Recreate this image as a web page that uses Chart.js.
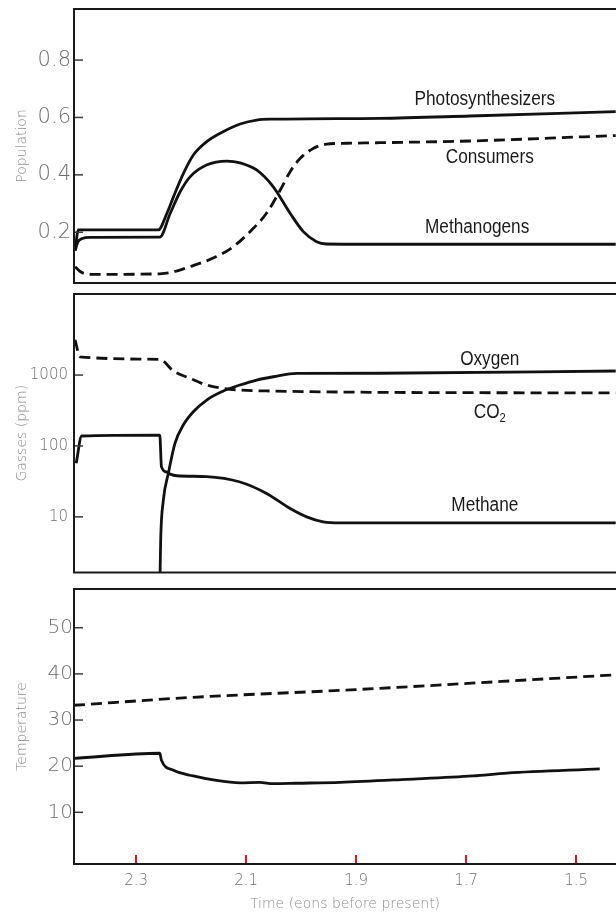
<!DOCTYPE html>
<html>
<head>
<meta charset="utf-8">
<script src="https://cdn.jsdelivr.net/npm/chart.js@4.4.1/dist/chart.umd.min.js"></script>
<style>
  body { margin: 0; background: #fff; }
  #wrap { position: relative; width: 616px; height: 913px; }
  canvas { position: absolute; left: 0; }
</style>
</head>
<body>
<div id="wrap">
  <canvas id="popChart" width="616" height="290" style="top:0"></canvas>
  <canvas id="gasChart" width="616" height="290" style="top:290px"></canvas>
  <canvas id="tempChart" width="616" height="333" style="top:580px"></canvas>
</div>
<script>
// time axis (eons before present), runs backwards left to right
const timeTicks = [2.3, 2.1, 1.9, 1.7, 1.5];

// population panel
const popTicks = [0.2, 0.4, 0.6, 0.8];
const photoT = [2.411, 2.405, 2.26, 2.244, 2.232, 2.214, 2.196, 2.172, 2.142, 2.111, 2.081, 2.051, 1.857, 1.693, 1.428];
const photoV = [0.14, 0.208, 0.208, 0.266, 0.324, 0.405, 0.469, 0.515, 0.55, 0.577, 0.591, 0.594, 0.597, 0.605, 0.62];
const methanogenT = [2.411, 2.406, 2.398, 2.384, 2.257, 2.238, 2.22, 2.202, 2.172, 2.135, 2.111, 2.081, 2.051, 2.02, 1.996, 1.972, 1.954, 1.857, 1.428];
const methanogenV = [0.135, 0.166, 0.178, 0.182, 0.183, 0.266, 0.341, 0.393, 0.434, 0.448, 0.442, 0.417, 0.359, 0.266, 0.202, 0.167, 0.159, 0.158, 0.158];
const consumerT = [2.411, 2.401, 2.384, 2.257, 2.238, 2.202, 2.154, 2.123, 2.093, 2.063, 2.038, 2.02, 2.002, 1.978, 1.954, 1.917, 1.857, 1.693, 1.428];
const consumerV = [0.08, 0.062, 0.053, 0.055, 0.059, 0.08, 0.115, 0.15, 0.202, 0.266, 0.347, 0.411, 0.457, 0.492, 0.507, 0.51, 0.512, 0.518, 0.537];

// gas panel (ppm, log)
const gasTicks = [10, 100, 1000];
const co2T = [2.411, 2.402, 2.257, 2.232, 2.202, 2.172, 2.142, 2.111, 2.051, 1.857, 1.428];
const co2V = [3120, 1810, 1660, 1140, 897, 723, 649, 614, 594, 570, 560];
const oxygenT = [2.2567, 2.2554, 2.2506, 2.2415, 2.2294, 2.2143, 2.1961, 2.1717, 2.1415, 2.1112, 2.0808, 2.0506, 2.008, 1.857, 1.428];
const oxygenV = [1.2, 4.7, 17, 41, 109, 197, 303, 444, 594, 723, 850, 946, 1057, 1060, 1140];
const methaneT = [2.409, 2.399, 2.257, 2.254, 2.245, 2.238, 2.226, 2.172, 2.111, 2.063, 2.02, 1.99, 1.96, 1.929, 1.857, 1.428];
const methaneV = [57, 138, 142, 51, 43, 40, 38, 37, 31, 21.4, 13.1, 10, 8.5, 8.2, 8.2, 8.2];

// temperature panel
const tempTicks = [10, 20, 30, 40, 50];
const upperTempT = [2.413, 2.2, 1.9, 1.428];
const upperTempV = [33.2, 34.9, 36.6, 39.8];
const tempT = [2.413, 2.257, 2.254, 2.232, 2.196, 2.154, 2.111, 2.075, 2.051, 2.008, 1.929, 1.808, 1.687, 1.626, 1.457];
const tempV = [21.7, 22.8, 21.3, 19.1, 17.9, 16.9, 16.4, 16.5, 16.2, 16.3, 16.5, 17.15, 17.9, 18.5, 19.4];

const pts = (ts, vs) => ts.map((t, i) => ({ x: t, y: vs[i] }));

const tickFont = (size) => ({ family: "'DejaVu Sans', sans-serif", size: size, weight: 200 });
const tickColor = '#6f6f6f';
const titleColor = '#8c8c8c';
const labelFont = "20px 'Liberation Sans', sans-serif";
const subFont = "13px 'Liberation Sans', sans-serif";

const line = (data, dashed) => ({
  data: data,
  borderColor: '#111',
  borderWidth: 2.8,
  borderDash: dashed ? [11, 6] : [],
  pointRadius: 0,
  cubicInterpolationMode: 'monotone',
  fill: false,
});

// box lines, inward tick marks and curve labels
const framePlugin = {
  id: 'frame',
  afterDatasetsDraw(chart, args, opts) {
    const { ctx, chartArea: a, scales } = chart;
    ctx.save();
    ctx.strokeStyle = '#3a3a3a';
    ctx.lineWidth = 1.5;
    opts.yTicks.forEach((v) => {
      const y = scales.y.getPixelForValue(v);
      ctx.beginPath();
      ctx.moveTo(a.left, y);
      ctx.lineTo(a.left + 9, y);
      ctx.stroke();
    });
    if (opts.redTicks) {
      ctx.strokeStyle = '#e8141c';
      ctx.lineWidth = 2;
      timeTicks.forEach((v) => {
        const x = Math.round(scales.x.getPixelForValue(v));
        ctx.beginPath();
        ctx.moveTo(x, a.bottom);
        ctx.lineTo(x, a.bottom - 9);
        ctx.stroke();
      });
    }
    ctx.strokeStyle = '#1a1a1a';
    ctx.lineWidth = 2;
    ctx.beginPath();
    ctx.moveTo(a.right + 4, a.top);
    ctx.lineTo(a.left, a.top);
    ctx.lineTo(a.left, a.bottom);
    ctx.lineTo(a.right + 4, a.bottom);
    ctx.stroke();

    // narrow lettering: squeeze the text to 86% of its natural width
    ctx.fillStyle = '#1a1a1a';
    ctx.textBaseline = 'middle';
    ctx.textAlign = 'left';
    (opts.labels || []).forEach((l) => {
      const x = scales.x.getPixelForValue(l.x);
      const y = scales.y.getPixelForValue(l.y);
      ctx.font = labelFont;
      const w1 = ctx.measureText(l.text).width * 0.86;
      ctx.font = subFont;
      const w2 = l.sub ? ctx.measureText(l.sub).width * 0.86 : 0;
      const x0 = x - (w1 + w2) / 2;
      if (l.sub) ctx.fillText(l.sub, x0 + w1, y + 6, w2);
      ctx.font = labelFont;
      ctx.fillText(l.text, x0, y, w1);
    });
    ctx.restore();
  },
};

const fixY = (scale) => {
  scale.width = 74;
  scale.paddingTop = 0;
  scale.paddingBottom = 0;
};

const createChart = (id, datasets, yOpts, plugOpts, showTime, padding) => {
  const ctx = document.getElementById(id).getContext('2d');
  new Chart(ctx, {
    type: 'line',
    data: { datasets: datasets },
    plugins: [framePlugin],
    options: {
      responsive: false,
      animation: false,
      layout: { padding: padding },
      plugins: { legend: { display: false }, tooltip: { enabled: false }, frame: plugOpts },
      scales: {
        x: {
          type: 'linear',
          reverse: true,
          min: 1.4275,
          max: 2.413,
          display: showTime,
          grid: { display: false, drawTicks: false },
          border: { display: false },
          afterBuildTicks: (s) => { s.ticks = timeTicks.map((v) => ({ value: v })); },
          afterFit: (s) => { s.height = showTime ? 49 : 0; s.paddingLeft = 0; s.paddingRight = 0; },
          ticks: {
            autoSkip: false,
            maxRotation: 0,
            padding: 8,
            color: tickColor,
            font: tickFont(15),
            callback: (v) => v.toFixed(1),
          },
          title: {
            display: true,
            text: 'Time (eons before present)',
            color: titleColor,
            font: tickFont(14),
            padding: { top: 0, bottom: 0 },
          },
        },
        y: Object.assign({
          grid: { display: false, drawTicks: false },
          border: { display: false },
          afterFit: fixY,
        }, yOpts),
      },
    },
  });
};

createChart('popChart', [
  line(pts(photoT, photoV), false),
  line(pts(methanogenT, methanogenV), false),
  line(pts(consumerT, consumerV), true),
], {
  type: 'linear',
  min: 0.023,
  max: 0.978,
  afterBuildTicks: (s) => { s.ticks = popTicks.map((v) => ({ value: v })); },
  ticks: { autoSkip: false, padding: 3, color: tickColor, font: tickFont(21), callback: (v) => v.toFixed(1) },
  title: { display: true, text: 'Population', color: titleColor, font: tickFont(14), padding: { top: 13.6 } },
}, {
  yTicks: popTicks,
  labels: [
    { text: 'Photosynthesizers', x: 1.666, y: 0.664 },
    { text: 'Consumers', x: 1.657, y: 0.459 },
    { text: 'Methanogens', x: 1.68, y: 0.218 },
  ],
}, false, { top: 9, bottom: 7 });

createChart('gasChart', [
  line(pts(co2T, co2V), true),
  line(pts(oxygenT, oxygenV), false),
  line(pts(methaneT, methaneV), false),
], {
  type: 'logarithmic',
  min: 1.64,
  max: 13900,
  afterBuildTicks: (s) => { s.ticks = gasTicks.map((v) => ({ value: v })); },
  ticks: { autoSkip: false, padding: 6, color: tickColor, font: tickFont(15), callback: (v) => String(v) },
  title: { display: true, text: 'Gasses (ppm)', color: titleColor, font: tickFont(14), padding: { top: 13.6 } },
}, {
  yTicks: gasTicks,
  labels: [
    { text: 'Oxygen', x: 1.657, y: 1683 },
    { text: 'CO', sub: '2', x: 1.657, y: 300 },
    { text: 'Methane', x: 1.666, y: 14.6 },
  ],
}, false, { top: 4, bottom: 7.5 });

createChart('tempChart', [
  line(pts(upperTempT, upperTempV), true),
  line(pts(tempT, tempV), false),
], {
  type: 'linear',
  min: -1.2,
  max: 58.4,
  afterBuildTicks: (s) => { s.ticks = tempTicks.map((v) => ({ value: v })); },
  ticks: { autoSkip: false, padding: 1, color: tickColor, font: tickFont(20), callback: (v) => String(v) },
  title: { display: true, text: 'Temperature', color: titleColor, font: tickFont(14), padding: { top: 13.6 } },
}, { yTicks: tempTicks, redTicks: true }, true, { top: 9, bottom: 0 });
</script>
</body>
</html>
